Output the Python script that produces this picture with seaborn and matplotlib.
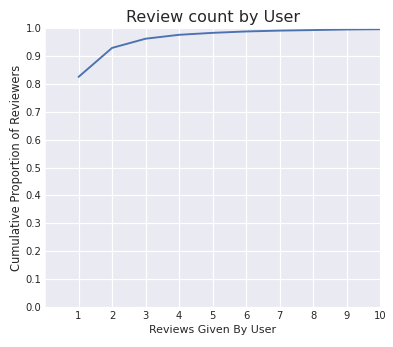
import matplotlib
matplotlib.use("Agg")
import matplotlib.pyplot as plt
import seaborn as sns
import numpy as np

reviews = [1, 2, 3, 4, 5, 6, 7, 8, 9, 10]
cum_prop = [0.825, 0.929, 0.962, 0.976, 0.983, 0.988, 0.991, 0.993, 0.995, 0.996]
x_ticks = [1, 2, 3, 4, 5, 6, 7, 8, 9, 10]
y_ticks = [0.0, 0.1, 0.2, 0.3, 0.4, 0.5, 0.6, 0.7, 0.8, 0.9, 1.0]

sns.set_style("darkgrid")
plt.rcParams["grid.linewidth"] = 1.2
fig = plt.figure(figsize=(393/72, 347/72), dpi=72)
ax = fig.add_axes([0.1145, 0.115, 0.853, 0.804])
sns.lineplot(x=reviews, y=cum_prop, ax=ax, color="#4c72b0", linewidth=1.9)
ax.set_xlim(0, 10)
ax.set_ylim(0, 1.0)
ax.set_xticks(x_ticks)
ax.set_yticks(y_ticks)
ax.set_yticklabels([f"{v:.1f}" for v in y_ticks])
ax.tick_params(labelsize=10, colors="#262626", length=0)
ax.set_xlabel("Reviews Given By User", fontsize=11, color="#262626")
ax.set_ylabel("Cumulative Proportion of Reviewers", fontsize=11.5, color="#262626", labelpad=3)
ax.set_title("Review count by User", fontsize=16, color="#262626")
fig.savefig("out.png", dpi=72)
